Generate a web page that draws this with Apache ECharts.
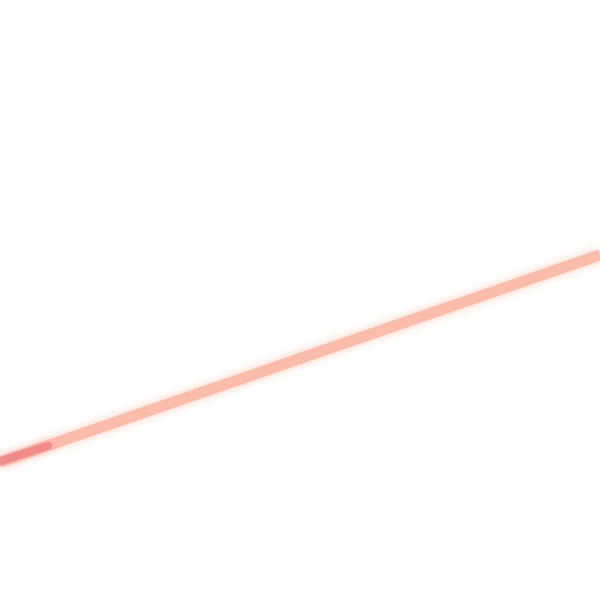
<!DOCTYPE html>
<html><head><meta charset="utf-8">
<script src="https://cdn.jsdelivr.net/npm/echarts@6/dist/echarts.min.js"></script>
<style>html,body{margin:0;padding:0;background:#fff}#c{width:600px;height:600px}</style>
</head><body><div id="c"></div>
<script>
const xs = [0, 10];
const ys = [2.3, 5.75];
const hiX = [0, 0.8];
const hiY = [2.31, 2.57];
const chart = echarts.init(document.getElementById('c'));
chart.setOption({
  animation: false,
  grid: {left: 0, right: 0, top: 0, bottom: 0},
  xAxis: {type: 'value', min: 0, max: 10, show: false},
  yAxis: {type: 'value', min: 0, max: 10, show: false},
  series: [
    {type: 'line', data: xs.map((x, i) => [x, ys[i]]), showSymbol: false,
     lineStyle: {color: '#fcbcaa', width: 11, shadowColor: 'rgba(253,200,180,0.9)', shadowBlur: 8}},
    {type: 'line', data: hiX.map((x, i) => [x, hiY[i]]), showSymbol: false,
     lineStyle: {color: 'rgba(236,128,128,0.75)', width: 8, cap: 'round', shadowColor: 'rgba(239,138,138,0.6)', shadowBlur: 6}}
  ]
});
</script></body></html>
